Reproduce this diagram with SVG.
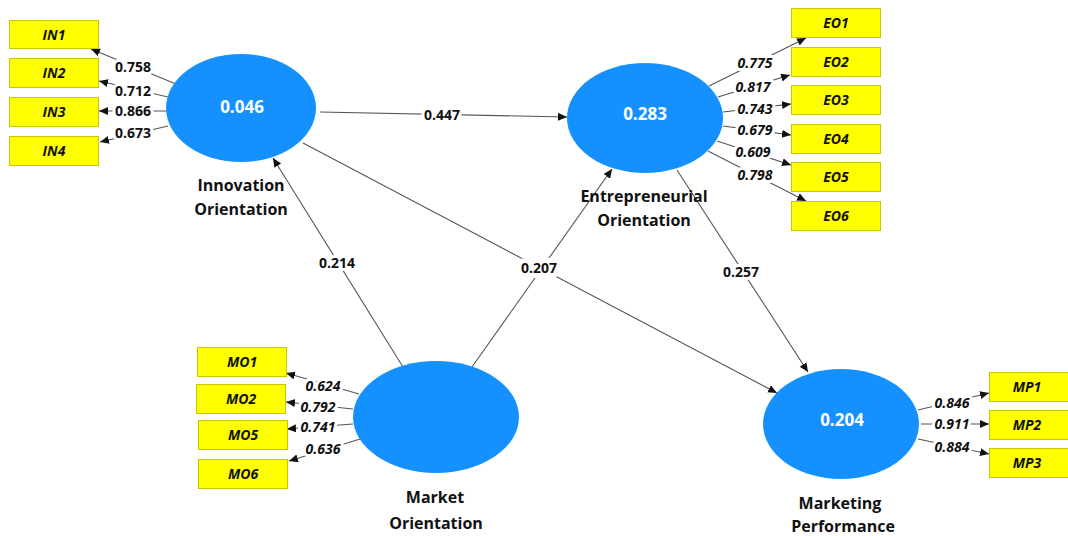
<svg xmlns="http://www.w3.org/2000/svg" width="1068" height="536" viewBox="0 0 1068 536">
<style>
.lv{fill:#1591FF;}
.val{font-family:"Open Sans","Noto Sans",sans-serif;font-weight:bold;font-size:17px;fill:#fff;text-anchor:middle;}
.name{font-family:"Open Sans","Noto Sans",sans-serif;font-weight:bold;font-size:16px;fill:#111;text-anchor:middle;}
.box{fill:#FFFF00;stroke:#C8C800;stroke-width:1;}
.ind{font-family:"Open Sans","Noto Sans",sans-serif;font-weight:bold;font-style:italic;font-size:14px;fill:#111;text-anchor:middle;}
.ln{stroke:#555;stroke-width:1.1;fill:none;marker-end:url(#ah);}
.lb{font-family:"Open Sans","Noto Sans",sans-serif;font-weight:bold;font-size:14px;fill:#111;text-anchor:middle;paint-order:stroke;stroke:#fff;stroke-width:6px;stroke-linejoin:round;}
.it{font-style:italic;}
</style>
<defs>
<marker id="ah" markerUnits="userSpaceOnUse" markerWidth="10" markerHeight="10" refX="9" refY="4" orient="auto">
<path d="M0,0 L9,4 L0,8 Z" fill="#111"/>
</marker>
</defs>
<rect width="1068" height="536" fill="#fff"/>

<g id="connectors">
<!-- IO loadings -->
<line class="ln" x1="176" y1="84" x2="91" y2="49"/>
<line class="ln" x1="168" y1="97" x2="99" y2="81"/>
<line class="ln" x1="166" y1="111" x2="99" y2="111"/>
<line class="ln" x1="168" y1="126" x2="100" y2="142"/>
<!-- EO loadings -->
<line class="ln" x1="709" y1="86" x2="806" y2="38"/>
<line class="ln" x1="718" y1="97" x2="790" y2="75"/>
<line class="ln" x1="723" y1="112" x2="791" y2="104"/>
<line class="ln" x1="723" y1="126" x2="791" y2="135"/>
<line class="ln" x1="717" y1="141" x2="791" y2="165"/>
<line class="ln" x1="708" y1="151" x2="806" y2="201"/>
<!-- MO loadings -->
<line class="ln" x1="359" y1="394" x2="286" y2="373"/>
<line class="ln" x1="353" y1="409" x2="286" y2="402"/>
<line class="ln" x1="353" y1="424" x2="287" y2="429"/>
<line class="ln" x1="360" y1="439" x2="289" y2="461"/>
<!-- MP loadings -->
<line class="ln" x1="918" y1="410" x2="989" y2="393"/>
<line class="ln" x1="921" y1="424" x2="989" y2="424"/>
<line class="ln" x1="918" y1="439" x2="989" y2="454"/>
<!-- structural -->
<line class="ln" x1="320" y1="112" x2="567" y2="117"/>
<line class="ln" x1="303" y1="143" x2="777" y2="393"/>
<line class="ln" x1="472" y1="367" x2="612" y2="169"/>
<line class="ln" x1="403" y1="367" x2="273" y2="158"/>
<line class="ln" x1="677" y1="170" x2="808" y2="372"/>

<!-- labels -->
<text class="lb" x="133" y="72">0.758</text>
<text class="lb" x="133" y="96">0.712</text>
<text class="lb" x="133" y="116">0.866</text>
<text class="lb" x="133" y="138">0.673</text>

<text class="lb it" x="755" y="68">0.775</text>
<text class="lb it" x="753" y="92">0.817</text>
<text class="lb it" x="755" y="114">0.743</text>
<text class="lb it" x="755" y="135">0.679</text>
<text class="lb it" x="753" y="157">0.609</text>
<text class="lb it" x="755" y="180">0.798</text>

<text class="lb it" x="323" y="391">0.624</text>
<text class="lb it" x="318" y="412">0.792</text>
<text class="lb it" x="318" y="432">0.741</text>
<text class="lb it" x="323" y="454">0.636</text>

<text class="lb it" x="952" y="408">0.846</text>
<text class="lb it" x="952" y="429">0.911</text>
<text class="lb it" x="952" y="452">0.884</text>

<text class="lb" x="442" y="120">0.447</text>
<text class="lb" x="539" y="273" style="stroke-width:10px">0.207</text>
<text class="lb" x="337" y="268">0.214</text>
<text class="lb" x="741" y="277">0.257</text>
</g>

<g id="IO">
<ellipse class="lv" cx="241" cy="108" rx="75" ry="54"/>
<text class="val" x="242" y="113">0.046</text>
<text class="name" x="241" y="191">Innovation</text>
<text class="name" x="241" y="215">Orientation</text>
</g>
<g id="EO">
<ellipse class="lv" cx="645" cy="118" rx="78" ry="55"/>
<text class="val" x="645" y="120">0.283</text>
<text class="name" x="644" y="202">Entrepreneurial</text>
<text class="name" x="644" y="226">Orientation</text>
</g>
<g id="MO">
<ellipse class="lv" cx="436" cy="417" rx="83" ry="56"/>
<text class="name" x="435" y="503">Market</text>
<text class="name" x="436" y="529">Orientation</text>
</g>
<g id="MP">
<ellipse class="lv" cx="841" cy="424" rx="78" ry="55"/>
<text class="val" x="842" y="426">0.204</text>
<text class="name" x="840" y="509">Marketing</text>
<text class="name" x="843" y="532">Performance</text>
</g>

<g id="IN1"><rect class="box" x="9.5" y="20.5" width="89" height="28"/><text class="ind" x="54" y="39.5">IN1</text></g>
<g id="IN2"><rect class="box" x="9.5" y="58.5" width="89" height="29"/><text class="ind" x="54" y="78">IN2</text></g>
<g id="IN3"><rect class="box" x="9.5" y="97.5" width="89" height="29"/><text class="ind" x="54" y="117">IN3</text></g>
<g id="IN4"><rect class="box" x="9.5" y="136.5" width="89" height="29"/><text class="ind" x="54" y="156">IN4</text></g>

<g id="EO1"><rect class="box" x="791.5" y="8.5" width="89" height="29"/><text class="ind" x="836" y="28">EO1</text></g>
<g id="EO2"><rect class="box" x="791.5" y="47.5" width="89" height="29"/><text class="ind" x="836" y="67">EO2</text></g>
<g id="EO3"><rect class="box" x="791.5" y="85.5" width="89" height="29"/><text class="ind" x="836" y="105">EO3</text></g>
<g id="EO4"><rect class="box" x="791.5" y="124.5" width="89" height="29"/><text class="ind" x="836" y="144">EO4</text></g>
<g id="EO5"><rect class="box" x="791.5" y="162.5" width="89" height="29"/><text class="ind" x="836" y="182">EO5</text></g>
<g id="EO6"><rect class="box" x="791.5" y="201.5" width="89" height="29"/><text class="ind" x="836" y="221">EO6</text></g>

<g id="MO1"><rect class="box" x="197.5" y="347.5" width="89" height="29"/><text class="ind" x="242" y="367">MO1</text></g>
<g id="MO2"><rect class="box" x="196.5" y="384.5" width="89" height="29"/><text class="ind" x="241" y="404">MO2</text></g>
<g id="MO5"><rect class="box" x="198.5" y="420.5" width="89" height="29"/><text class="ind" x="243" y="440">MO5</text></g>
<g id="MO6"><rect class="box" x="198.5" y="459.5" width="89" height="29"/><text class="ind" x="243" y="479">MO6</text></g>

<g id="MP1"><rect class="box" x="989.5" y="372.5" width="89" height="29"/><text class="ind" x="1027" y="392">MP1</text></g>
<g id="MP2"><rect class="box" x="989.5" y="410.5" width="89" height="29"/><text class="ind" x="1027" y="430">MP2</text></g>
<g id="MP3"><rect class="box" x="989.5" y="448.5" width="89" height="29"/><text class="ind" x="1027" y="468">MP3</text></g>
</svg>
